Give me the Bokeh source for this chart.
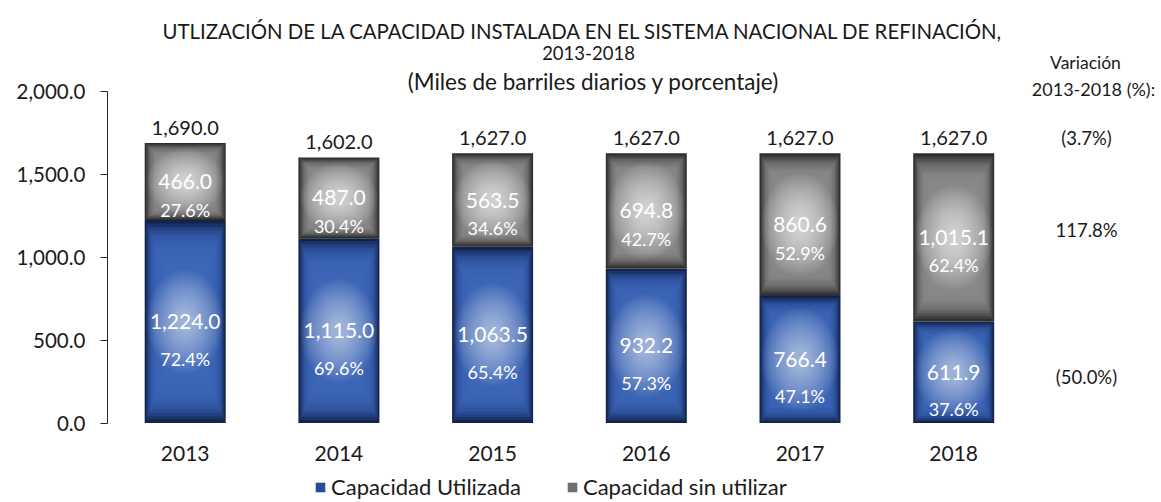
import numpy as np
from bokeh.plotting import figure
from bokeh.models import (ColumnDataSource, Range1d, FixedTicker, NumeralTickFormatter,
                          Label, Legend, LegendItem, LinearAxis)
from bokeh.core.properties import value
from bokeh.embed import file_html
from bokeh.resources import INLINE

# ---------------- data ----------------
years = ["2013", "2014", "2015", "2016", "2017", "2018"]
used = [1224.0, 1115.0, 1063.5, 932.2, 766.4, 611.9]
unused = [466.0, 487.0, 563.5, 694.8, 860.6, 1015.1]
capacity = [1690.0, 1602.0, 1627.0, 1627.0, 1627.0, 1627.0]
used_pct = ["72.4%", "69.6%", "65.4%", "57.3%", "47.1%", "37.6%"]
unused_pct = ["27.6%", "30.4%", "34.6%", "42.7%", "52.9%", "62.4%"]
variation_labels = ["(3.7%)", "117.8%", "(50.0%)"]
y_ticks = [0, 500, 1000, 1500, 2000]
title_lines = ["UTLIZACIÓN DE LA CAPACIDAD INSTALADA EN EL SISTEMA NACIONAL DE REFINACIÓN,",
               "2013-2018",
               "(Miles de barriles diarios y porcentaje)"]
variation_title = ["Variación", "2013-2018 (%):"]
series_names = ["Capacidad Utilizada", "Capacidad sin utilizar"]

# ---------------- layout (canvas pixels) ----------------
FONT = "Lato"
W, H = 1160, 500
PX_PER_CAT = 153.7
FIRST_CENTER_PX = 184.7
AXIS_PX = 107.0
ZERO_PY = 422.5
TOP_PY = 91.0
PPU = (ZERO_PY - TOP_PY) / 2000.0

XL = -FIRST_CENTER_PX / PX_PER_CAT
XR = XL + W / PX_PER_CAT
YT = ZERO_PY / PPU
YB = -(H - ZERO_PY) / PPU

def xd(px):
    return XL + px / PX_PER_CAT

def yd(py):
    return (ZERO_PY - py) / PPU

p = figure(width=W, height=H, x_range=Range1d(XL, XR), y_range=Range1d(YB, YT),
           output_backend="svg", toolbar_location=None,
           x_axis_type=None, y_axis_type=None,
           min_border_left=0, min_border_right=0, min_border_top=0, min_border_bottom=0)
p.outline_line_color = None
p.background_fill_color = "white"
p.border_fill_color = "white"

xs = np.arange(len(years), dtype=float)
bw = 0.527
used_a = np.array(used)
unused_a = np.array(unused)

# ---------------- gradient bars ----------------
def hex2rgb(h):
    h = h.lstrip("#")
    return np.array([int(h[i:i + 2], 16) for i in (0, 2, 4)], dtype=float)

def make_color(stops, t):
    ts = [s[0] for s in stops]
    cs = [hex2rgb(s[1]) for s in stops]
    for i in range(len(ts) - 1):
        if ts[i] <= t <= ts[i + 1]:
            f = (t - ts[i]) / (ts[i + 1] - ts[i])
            c = cs[i] * (1 - f) + cs[i + 1] * f
            return "#%02x%02x%02x" % tuple(int(round(v)) for v in c)
    return "#%02x%02x%02x" % tuple(int(round(v)) for v in cs[-1])

blue_stops = [(0.0, "#13244a"), (0.05, "#1f3b78"), (0.12, "#2e539e"),
              (0.24, "#3a62b2"), (1.0, "#4470c2")]
gray_stops = [(0.0, "#2e2e2e"), (0.05, "#4a4a4a"), (0.12, "#6c6c6c"),
              (0.24, "#848484"), (1.0, "#9c9c9c")]

N = 30
M = 20
layer_renderers = {}
segs = [
    ("blue", used_a / 2.0, used_a, blue_stops, 0.035),
    ("gray", used_a + unused_a / 2.0, unused_a, gray_stops, 0.045),
]
for name, yc, hh, stops, galpha in segs:
    rs = []
    for k in range(N):
        f = 1.0 - k / N
        src = ColumnDataSource(dict(x=xs, y=yc, w=np.full(len(xs), bw * f), h=hh * f))
        rs.append(p.rect(x="x", y="y", width="w", height="h", source=src,
                         fill_color=make_color(stops, k / N), line_color=None))
    layer_renderers[name] = rs
    glow_h = np.minimum(hh * 0.85, 620.0)
    for k in range(M):
        s = 1.0 - 0.85 * k / M
        src = ColumnDataSource(dict(x=xs, y=yc, w=np.full(len(xs), bw * 0.95 * s),
                                    h=glow_h * s))
        p.ellipse(x="x", y="y", width="w", height="h", source=src,
                  fill_color="white", fill_alpha=galpha, line_color=None)

# ---------------- value labels ----------------
def fmt(v):
    return "{:,.1f}".format(v)

lab_src = ColumnDataSource(dict(
    x=xs,
    cap=np.array(capacity), cap_t=[fmt(v) for v in capacity],
    uy=used_a / 2.0, u_t=[fmt(v) for v in used], u_p=used_pct,
    gy=used_a + unused_a / 2.0, g_t=[fmt(v) for v in unused], g_p=unused_pct,
))
common = dict(source=lab_src, text_align="center", text_baseline="middle",
              text_font=value(FONT))
p.text(x="x", y="cap", text="cap_t", y_offset=-15, text_font_size="20px",
       text_color="#1a1a1a", **common)
p.text(x="x", y="gy", text="g_t", text_font_size="21px", text_color="white", **common)
p.text(x="x", y="gy", text="g_p", y_offset=28, text_font_size="18px",
       text_color="white", **common)
p.text(x="x", y="uy", text="u_t", text_font_size="21px", text_color="white", **common)
p.text(x="x", y="uy", text="u_p", y_offset=37, text_font_size="18px",
       text_color="white", **common)

# ---------------- variation column ----------------
vx = xd(1086)
var_ys = [capacity[-1], used[-1] + unused[-1] / 2.0, used[-1] / 2.0]
var_offsets = [15, 7, -5]
for t, yv, off in zip(variation_labels, var_ys, var_offsets):
    p.add_layout(Label(x=vx, y=yv, text=t, text_align="center", text_baseline="middle",
                       y_offset=off, text_font=FONT, text_font_size="18.5px",
                       text_color="#1a1a1a"))
for t, px, py, fs in zip(variation_title, [1085, 1093], [62, 88], ["17.5px", "18px"]):
    p.add_layout(Label(x=xd(px), y=yd(py), text=t, text_align="center",
                       text_baseline="middle", text_font=FONT, text_font_size=fs,
                       text_color="#1a1a1a"))

# ---------------- title ----------------
for t, px, py, fs in zip(title_lines, [583, 588, 593], [30, 52, 81],
                         ["20.4px", "18.5px", "22.5px"]):
    p.add_layout(Label(x=xd(px), y=yd(py), text=t, text_align="center",
                       text_baseline="middle", text_font=FONT, text_font_size=fs,
                       text_color="#1a1a1a"))

# ---------------- axes ----------------
yaxis = LinearAxis(fixed_location=xd(AXIS_PX), bounds=(0, 2000),
                   ticker=FixedTicker(ticks=y_ticks),
                   formatter=NumeralTickFormatter(format="0,0.0"))
yaxis.major_label_text_font = FONT
yaxis.major_label_text_font_size = "20.5px"
yaxis.major_label_text_color = "#1a1a1a"
yaxis.axis_line_color = "#262626"
yaxis.major_tick_line_color = "#262626"
yaxis.major_tick_out = 7
yaxis.major_tick_in = 0
yaxis.minor_tick_line_color = None
yaxis.major_label_standoff = 15
p.add_layout(yaxis, "left")

xaxis = LinearAxis(fixed_location=0, ticker=FixedTicker(ticks=list(xs)))
xaxis.major_label_overrides = {float(i): y for i, y in enumerate(years)}
xaxis.major_label_text_font = FONT
xaxis.major_label_text_font_size = "21px"
xaxis.major_label_text_color = "#1a1a1a"
xaxis.axis_line_color = None
xaxis.major_tick_line_color = None
xaxis.minor_tick_line_color = None
xaxis.major_label_standoff = 17
p.add_layout(xaxis, "below")

# ---------------- legend ----------------
legend = Legend(items=[LegendItem(label=series_names[0], renderers=[layer_renderers["blue"][3]]),
                       LegendItem(label=series_names[1], renderers=[layer_renderers["gray"][4]])],
                orientation="horizontal", location=(314, 0),
                glyph_width=12, glyph_height=12, label_standoff=5, spacing=45,
                padding=0, margin=0, border_line_color=None, background_fill_alpha=0,
                label_text_font=FONT, label_text_font_size="22px",
                label_text_color="#1a1a1a", label_height=22)
p.add_layout(legend)

open("out.html", "w").write(file_html(p, INLINE))
